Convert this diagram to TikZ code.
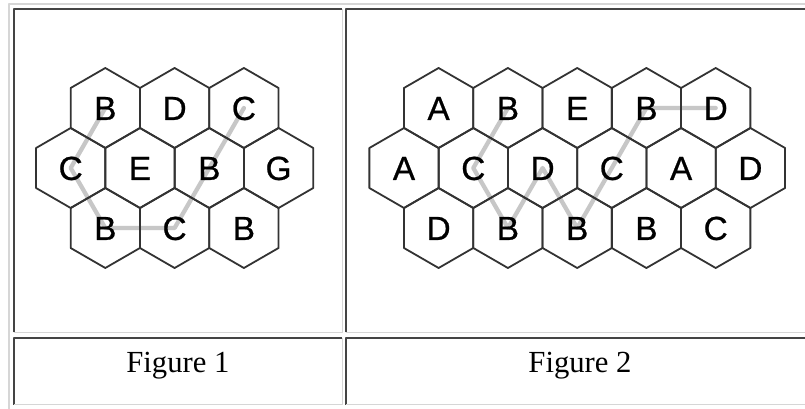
\documentclass[tikz,border=0pt]{standalone}
\usepackage{fontspec}
\setmainfont{Liberation Serif}
\newfontfamily\cellfont[FakeBold=0.7]{Liberation Sans}
\usepackage{tikz}
\definecolor{cccccc}{rgb}{0.78,0.78,0.78}
\definecolor{dcdcdc}{rgb}{0.84,0.84,0.84}
\definecolor{uuuuuu}{rgb}{0.26666666666666666,0.26666666666666666,0.26666666666666666}
\definecolor{tttttt}{rgb}{0.2,0.2,0.2}

\begin{document}
\begin{tikzpicture}[line cap=round,line join=round,x=0.75pt,y=-0.75pt,
  hexcell/.style={line width=1.35pt,color=tttttt},
  route/.style={line width=3.2pt,color=cccccc},
  letter/.style={font=\cellfont\fontsize{25}{25}\selectfont,inner sep=0pt,text height=17.9pt,text depth=0pt},
  caption/.style={font=\fontsize{23}{23}\selectfont,inner sep=0pt,anchor=base}]
\useasboundingbox (0,0) rectangle (805,409);
\clip (0,0) rectangle (805,409);
\fill [white] (0,0) rectangle (805,409);
\draw [line width=1.2pt,color=dcdcdc,line cap=butt] (9,409) -- (9,4) -- (805,4);
\foreach \l/\t/\r/\b in {13.5/9.2/342.3/332.3, 346.3/9.2/814/332.3, 13.5/337.7/342.3/404.5, 346.3/337.7/814/404.5}
{
\draw [line width=1.5pt,color=uuuuuu,line cap=butt] (\l,\b) -- (\l,\t) -- (\r,\t);
\draw [line width=1.1pt,color=dcdcdc,line cap=butt] (\r,\t) -- (\r,\b) -- (\l,\b);
}
\foreach \n/\x/\y in {p11/105.3/108, p12/174.6/108, p13/243.9/108,
  p21/70.7/168, p22/140/168, p23/209.3/168, p24/278.6/168,
  p31/105.3/228, p32/174.6/228, p33/243.9/228,
  q11/438.6/108, q12/507.9/108, q13/577.2/108, q14/646.4/108, q15/715.7/108,
  q21/404/168, q22/473.3/168, q23/542.6/168, q24/611.8/168, q25/681.1/168, q26/750.4/168,
  q31/438.6/228, q32/507.9/228, q33/577.2/228, q34/646.4/228, q35/715.7/228}
  \coordinate (\n) at (\x,\y);
\draw [route] (p11) -- (p21) -- (p31) -- (p32) -- (p23) -- (p13);
\draw [route] (q12) -- (q22) -- (q32) -- (q23) -- (q33) -- (q24) -- (q14) -- (q15);
\foreach \n/\t in {p11/B, p12/D, p13/C, p21/C, p22/E, p23/B, p24/G, p31/B, p32/C, p33/B,
  q11/A, q12/B, q13/E, q14/B, q15/D, q21/A, q22/C, q23/D, q24/C, q25/A, q26/D,
  q31/D, q32/B, q33/B, q34/B, q35/C}
{
\draw [hexcell,shift={(\n)}] (90:40) -- (30:40) -- (-30:40) -- (-90:40) -- (-150:40) -- (150:40) -- cycle;
\node [letter] (\n-t) at (\n) {\t};
}
\node [caption] (cap1) at (177.9,372.5) {Figure 1};
\node [caption] (cap2) at (580,372.5) {Figure 2};
\end{tikzpicture}
\end{document}
